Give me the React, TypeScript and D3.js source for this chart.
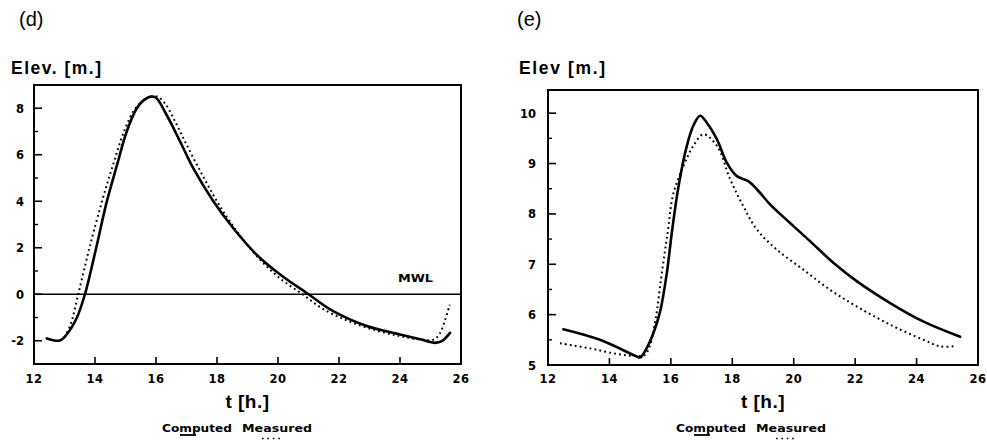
import React from "react";
import * as d3 from "d3";

// Panel (d): water elevation relative to MWL
const dComputedT = [12.42, 12.85, 13.07, 13.4, 13.67, 14.04, 14.37, 14.72, 15.04, 15.37, 15.6, 15.82, 16.0, 16.35, 16.79, 17.22, 17.88, 18.53, 19.3, 20.07, 21.0, 21.81, 22.91, 24.0, 24.66, 25.15, 25.37, 25.64];
const dComputedV = [-1.9, -1.99, -1.73, -1.02, 0, 2.0, 3.9, 5.55, 7.0, 8.0, 8.35, 8.5, 8.45, 7.71, 6.57, 5.42, 4.0, 2.85, 1.7, 0.85, 0, -0.73, -1.37, -1.73, -1.94, -2.09, -2.02, -1.66];
const dMeasuredT = [13.0, 13.2, 13.45, 13.8, 14.23, 14.6, 14.98, 15.3, 15.6, 15.85, 16.05, 16.3, 16.6, 16.95, 17.45, 18.0, 18.6, 19.3, 20.0, 20.8, 21.5, 22.3, 23.2, 24.0, 24.7, 25.1, 25.3, 25.48, 25.63];
const dMeasuredV = [-1.85, -1.3, 0, 1.9, 4.0, 5.6, 7.1, 7.95, 8.35, 8.5, 8.5, 8.2, 7.5, 6.57, 5.3, 4.0, 2.8, 1.65, 0.75, 0, -0.65, -1.15, -1.55, -1.8, -1.95, -1.95, -1.7, -1.1, -0.45];
const dYTicks = [8, 6, 4, 2, 0, -2];
const dYMinor = [7, 5, 3, 1, -1];

// Panel (e): absolute water elevation
const eComputedT = [12.5, 13.69, 14.89, 15.0, 15.21, 15.43, 15.65, 15.87, 16.03, 16.25, 16.52, 16.73, 16.95, 17.17, 17.5, 17.82, 18.15, 18.52, 18.8, 19.23, 19.88, 20.53, 21.29, 22.06, 23.14, 24.23, 25.42];
const eComputedV = [5.71, 5.5, 5.17, 5.15, 5.33, 5.63, 6.06, 6.83, 7.62, 8.55, 9.35, 9.75, 9.95, 9.81, 9.48, 9.02, 8.75, 8.65, 8.49, 8.19, 7.82, 7.46, 7.03, 6.66, 6.23, 5.86, 5.56];
const eMeasuredT = [12.39, 13.37, 14.24, 14.89, 15.15, 15.3, 15.5, 15.7, 15.9, 16.08, 16.46, 16.73, 17.06, 17.5, 17.93, 18.36, 18.8, 19.45, 20.32, 21.19, 22.06, 23.14, 24.23, 24.77, 25.2];
const eMeasuredV = [5.43, 5.33, 5.22, 5.18, 5.2, 5.35, 5.9, 6.8, 7.65, 8.4, 9.02, 9.35, 9.58, 9.35, 8.69, 8.15, 7.69, 7.29, 6.89, 6.49, 6.16, 5.8, 5.5, 5.37, 5.37];
const eYTicks = [10, 9, 8, 7, 6, 5];
const eYMinor = [9.5, 8.5, 7.5, 6.5, 5.5];

const xTicks = [12, 14, 16, 18, 20, 22, 24, 26];
const legendLabels = ["Computed", "Measured"];

const FONT = "'Liberation Sans', Arial, Helvetica, sans-serif";
const HEAVY = "'DejaVu Sans', 'Liberation Sans', sans-serif";

type PanelProps = {
  tag: string;
  tagX: number;
  yTitle: string;
  titleX: number;
  titleW: number;
  left: number;
  right: number;
  top: number;
  bottom: number;
  yDomain: [number, number];
  yTicks: number[];
  yMinor: number[];
  yLabelX: number;
  legendX: number;
  compT: number[];
  compV: number[];
  measT: number[];
  measV: number[];
  mwl?: boolean;
};

function Panel(p: PanelProps) {
  const x = d3.scaleLinear().domain([12, 26]).range([p.left, p.right]);
  const y = d3.scaleLinear().domain(p.yDomain).range([p.bottom, p.top]);
  const line = d3
    .line<[number, number]>()
    .x((d) => x(d[0]))
    .y((d) => y(d[1]))
    .curve(d3.curveCatmullRom.alpha(0.5));
  const comp = line(p.compT.map((t, i) => [t, p.compV[i]] as [number, number])) || "";
  const meas = line(p.measT.map((t, i) => [t, p.measV[i]] as [number, number])) || "";
  const cx = (p.left + p.right) / 2;
  const lx = p.legendX;

  return (
    <g fontFamily={FONT} fill="#000">
      <text x={p.tagX} y={26} fontSize={20}>{p.tag}</text>
      <text x={p.titleX} y={74} fontSize={17.5} fontWeight="bold" textLength={p.titleW} lengthAdjust="spacing">{p.yTitle}</text>

      {p.mwl && (
        <>
          <line x1={p.left} x2={p.right} y1={y(0)} y2={y(0)} stroke="#000" strokeWidth={1.6} />
          <text x={398} y={282} fontSize={11} fontWeight="bold" fontFamily={HEAVY} textLength={35} lengthAdjust="spacingAndGlyphs">MWL</text>
        </>
      )}

      <path d={meas} fill="none" stroke="#000" strokeWidth={2} strokeDasharray="1.8 3.2" />
      <path d={comp} fill="none" stroke="#000" strokeWidth={2.6} strokeLinejoin="round" strokeLinecap="round" />

      <rect x={p.left} y={p.top} width={p.right - p.left} height={p.bottom - p.top} fill="none" stroke="#000" strokeWidth={2} />

      {p.yTicks.map((v) => (
        <g key={"y" + v}>
          <line x1={p.left} x2={p.left + 8} y1={y(v)} y2={y(v)} stroke="#000" strokeWidth={1.6} />
          <text x={p.yLabelX} y={y(v) + 4.5} fontSize={11.5} fontWeight="bold" fontFamily={HEAVY} textAnchor="end">{v}</text>
        </g>
      ))}
      {p.yMinor.map((v) => (
        <line key={"m" + v} x1={p.left} x2={p.left + 4} y1={y(v)} y2={y(v)} stroke="#000" strokeWidth={1.4} />
      ))}
      {xTicks.map((t) => (
        <g key={"x" + t}>
          <line x1={x(t)} x2={x(t)} y1={p.bottom} y2={p.bottom - 7} stroke="#000" strokeWidth={1.6} />
          <text x={x(t)} y={383} fontSize={11.5} fontWeight="bold" fontFamily={HEAVY} textAnchor="middle" letterSpacing={0.5}>{t}</text>
        </g>
      ))}

      <text x={cx} y={408} fontSize={19} fontWeight="bold" textAnchor="middle" letterSpacing={0.5}>t [h.]</text>

      <text x={lx} y={432} fontSize={11} fontWeight="bold" fontFamily={HEAVY} textLength={70} lengthAdjust="spacingAndGlyphs">{legendLabels[0]}</text>
      <text x={lx + 80} y={432} fontSize={11} fontWeight="bold" fontFamily={HEAVY} textLength={70} lengthAdjust="spacingAndGlyphs">{legendLabels[1]}</text>
      <line x1={lx + 18} x2={lx + 34} y1={435} y2={435} stroke="#000" strokeWidth={1.8} />
      <line x1={lx + 100} x2={lx + 121} y1={438.5} y2={438.5} stroke="#000" strokeWidth={1.6} strokeDasharray="1.6 3.8" />
    </g>
  );
}

export default function App() {
  return (
    <svg width={987} height={442} style={{ position: "absolute", left: 0, top: 0, background: "#fff" }}>
      <rect width={987} height={442} fill="#fff" />
      <Panel
        tag="(d)"
        tagX={19}
        yTitle="Elev. [m.]"
        titleX={11}
        titleW={90}
        left={34}
        right={461}
        top={85}
        bottom={364}
        yDomain={[-3, 9]}
        yTicks={dYTicks}
        yMinor={dYMinor}
        yLabelX={24}
        legendX={162}
        compT={dComputedT}
        compV={dComputedV}
        measT={dMeasuredT}
        measV={dMeasuredV}
        mwl
      />
      <Panel
        tag="(e)"
        tagX={517}
        yTitle="Elev [m.]"
        titleX={519}
        titleW={86}
        left={548}
        right={978}
        top={90}
        bottom={365}
        yDomain={[5, 10.46]}
        yTicks={eYTicks}
        yMinor={eYMinor}
        yLabelX={536}
        legendX={676}
        compT={eComputedT}
        compV={eComputedV}
        measT={eMeasuredT}
        measV={eMeasuredV}
      />
    </svg>
  );
}
